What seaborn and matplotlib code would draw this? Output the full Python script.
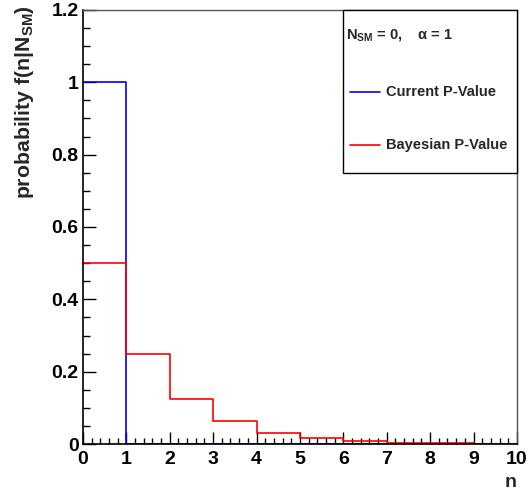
import numpy as np
import pandas as pd
import matplotlib
matplotlib.use("Agg")
import matplotlib.pyplot as plt
from matplotlib.patches import Rectangle
from matplotlib.ticker import MultipleLocator
import seaborn as sns

# Probability per outcome n (bins of width 1 from 0 to 10)
n_values = [0, 1, 2, 3, 4, 5, 6, 7, 8, 9]
current_p = [1.0, 0, 0, 0, 0, 0, 0, 0, 0, 0]
bayesian_p = [0.5, 0.25, 0.125, 0.0625, 0.03125, 0.015625,
              0.0078125, 0.00390625, 0.001953125, 0.0009765625]
x_ticks = [0, 1, 2, 3, 4, 5, 6, 7, 8, 9, 10]
y_ticks = [0, 0.2, 0.4, 0.6, 0.8, 1.0, 1.2]
y_tick_labels = ["0", "0.2", "0.4", "0.6", "0.8", "1", "1.2"]
series_names = ["Current P-Value", "Bayesian P-Value"]
series_colors = ["#0000ff", "#ff0000"]
legend_title = r"N$_{\mathbf{SM}}$ = 0,    $\mathsf{\alpha}$ = 1"

sns.set_style("white")
plt.rcParams["font.family"] = ["Liberation Sans", "DejaVu Sans"]
plt.rcParams["font.weight"] = "bold"
plt.rcParams["mathtext.fontset"] = "custom"
plt.rcParams["mathtext.rm"] = "Liberation Sans:bold"
plt.rcParams["mathtext.bf"] = "Liberation Sans:bold"
plt.rcParams["mathtext.it"] = "Liberation Sans:bold"
plt.rcParams["mathtext.sf"] = "Liberation Sans"

fig = plt.figure(figsize=(5.28, 4.91), dpi=100)
ax = fig.add_axes([0.157, 0.0957, 0.822, 0.884])

centers = np.array(n_values) + 0.5
df_cur = pd.DataFrame({"n": centers, "p": current_p})
df_bay = pd.DataFrame({"n": centers, "p": bayesian_p})

sns.histplot(data=df_cur, x="n", weights="p", binwidth=1, binrange=(0, 10),
             element="step", fill=False, color=series_colors[0],
             linewidth=1.2, ax=ax)
sns.histplot(data=df_bay, x="n", weights="p", binwidth=1, binrange=(0, 10),
             element="step", fill=False, color=series_colors[1],
             linewidth=1.2, ax=ax)

ax.set_xlim(0, 10)
ax.set_ylim(0, 1.2)
ax.set_xticks(x_ticks)
ax.set_xticklabels([str(t) for t in x_ticks])
ax.set_yticks(y_ticks)
ax.set_yticklabels(y_tick_labels)
ax.xaxis.set_minor_locator(MultipleLocator(0.2))
ax.yaxis.set_minor_locator(MultipleLocator(0.05))

ax.tick_params(axis="both", which="both", direction="in", colors="black",
               labelsize=14, width=1, bottom=True, left=True, top=False,
               right=False)
ax.tick_params(axis="x", which="major", length=8.6, pad=5)
ax.tick_params(axis="x", which="minor", length=4.3)
ax.tick_params(axis="y", which="major", length=9.4, pad=3)
ax.tick_params(axis="y", which="minor", length=5)
for lab in ax.get_xticklabels() + ax.get_yticklabels():
    lab.set_fontweight("bold")

for side in ("left", "bottom"):
    ax.spines[side].set_color("black")
    ax.spines[side].set_linewidth(1.2)
for side in ("top", "right"):
    ax.spines[side].set_color("#555555")
    ax.spines[side].set_linewidth(1.0)

ax.set_xlabel("n", loc="right", fontsize=14, fontweight="bold", labelpad=4)
ax.set_ylabel(r"probability f(n|N$_{\mathbf{SM}}$)", loc="top", fontsize=15.3,
              fontweight="bold")
ax.yaxis.set_label_coords(-0.108, 1.012)

# Legend box: title row plus one row per series
box_x0, box_y0 = 0.599, 0.6244
ax.add_patch(Rectangle((box_x0, box_y0), 1 - box_x0, 1 - box_y0,
                       transform=ax.transAxes, facecolor="white",
                       edgecolor="black", linewidth=1.0, zorder=5,
                       clip_on=False))
ax.text(0.606, 0.9424, legend_title, transform=ax.transAxes, ha="left",
        va="center", fontsize=10.5, fontweight="bold", zorder=6)
row_y = [0.811, 0.689]
for name, color, y in zip(series_names, series_colors, row_y):
    ax.plot([0.615, 0.684], [y, y], color=color, linewidth=1.2,
            transform=ax.transAxes, zorder=6, clip_on=False)
    ax.text(0.698, y, name, transform=ax.transAxes, ha="left", va="center",
            fontsize=10.5, fontweight="bold", zorder=6)

fig.savefig("out.png", dpi=100)
